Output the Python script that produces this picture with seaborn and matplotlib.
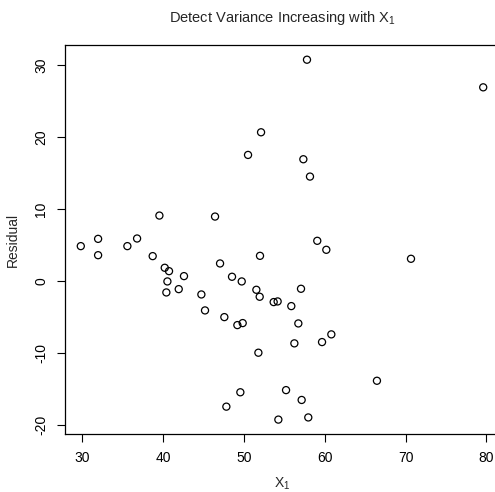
import numpy as np
import pandas as pd
import seaborn as sns
import matplotlib.pyplot as plt

# valores
x1 = [29.84, 31.98, 31.98, 35.6, 36.8, 38.73, 40.22, 40.75, 40.55, 40.42,
      41.95, 42.6, 44.75, 45.2, 47.06, 47.59, 48.54, 49.74, 49.2, 49.86,
      51.55, 51.96, 52.0, 53.69, 54.18, 51.8, 49.57, 47.84, 54.27,
      52.13, 50.52, 39.56, 46.44,
      57.81, 79.6, 57.36, 58.18,
      59.08, 60.2, 70.67, 57.07, 55.87, 56.74, 56.25, 59.67, 60.82, 66.46,
      55.22, 57.15, 57.97]
residual = [4.82, 5.83, 3.56, 4.82, 5.88, 3.43, 1.81, 1.34, -0.09, -1.62,
            -1.16, 0.65, -1.9, -4.12, 2.41, -5.05, 0.56, -0.09, -6.16, -5.88,
            -1.25, -2.22, 3.47, -2.96, -2.87, -10.0, -15.5, -17.5, -19.3,
            20.65, 17.5, 9.07, 8.93,
            30.74, 26.9, 16.9, 14.49,
            5.56, 4.31, 3.06, -1.11, -3.52, -5.93, -8.7, -8.52, -7.45, -13.9,
            -15.2, -16.57, -19.0]
x_ticks = [30, 40, 50, 60, 70, 80]
y_ticks = [-20, -10, 0, 10, 20, 30]

df = pd.DataFrame({"x1": x1, "residual": residual})

sns.set_style("white")
plt.rcParams["font.family"] = ["Liberation Sans", "DejaVu Sans"]
plt.rcParams["mathtext.fontset"] = "custom"
plt.rcParams["mathtext.rm"] = "Liberation Sans"
plt.rcParams["mathtext.it"] = "Liberation Sans"

fig = plt.figure(figsize=(4.95, 4.92), dpi=100)
ax = fig.add_axes([0.1307, 0.1179, 0.878, 0.79])

sns.scatterplot(data=df, x="x1", y="residual", ax=ax, marker="o",
                facecolor="none", edgecolor="black", linewidth=0.9, s=26)

# rango estilo R (4% extra)
xr = max(x1) - min(x1)
yr = max(residual) - min(residual)
ax.set_xlim(min(x1) - 0.04 * xr, max(x1) + 0.04 * xr)
ax.set_ylim(min(residual) - 0.04 * yr, max(residual) + 0.04 * yr)

ax.set_xticks(x_ticks)
ax.set_yticks(y_ticks)
ax.set_yticklabels([str(v) for v in y_ticks], rotation=90, va="center")
ax.tick_params(axis="both", direction="out", length=6, width=0.8,
               labelsize=10, colors="black", pad=6, left=True, bottom=True)

for s in ax.spines.values():
    s.set_color("black")
    s.set_linewidth(0.9)

ax.set_xlabel("X$_\\mathrm{1}$", fontsize=10, labelpad=8)
ax.set_ylabel("Residual", fontsize=10, labelpad=10)
ax.set_title("Detect Variance Increasing with X$_\\mathrm{1}$",
             fontsize=10.5, pad=17)

fig.savefig("out.png", dpi=100)
